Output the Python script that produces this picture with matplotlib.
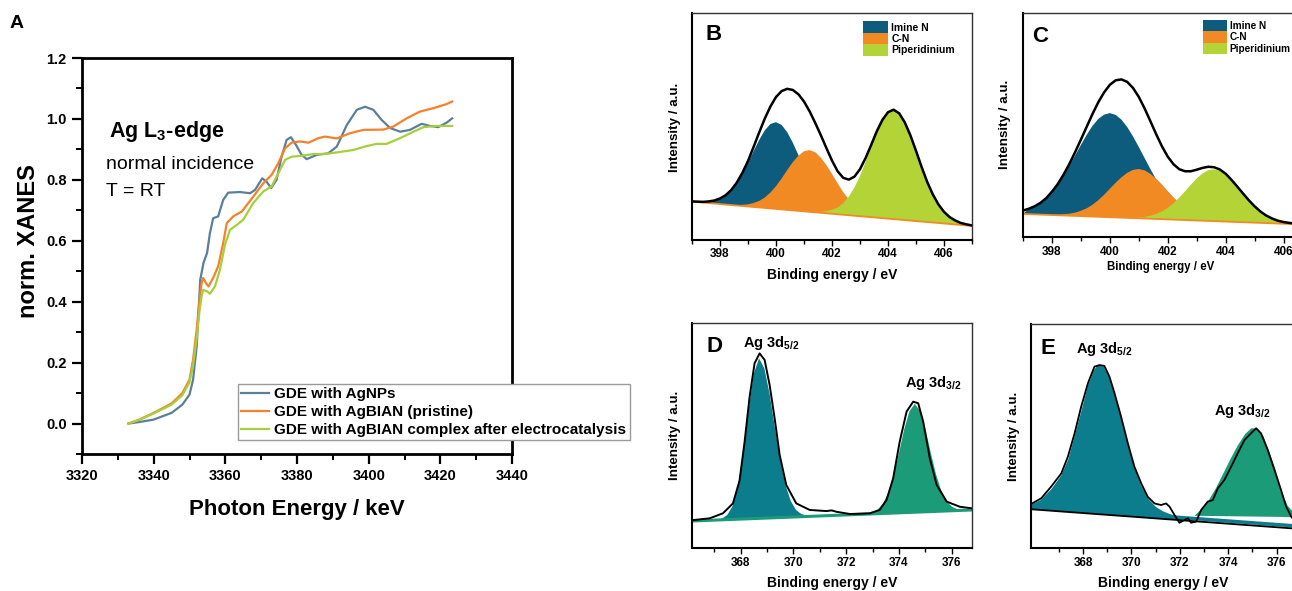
import numpy as np
import matplotlib
matplotlib.use('Agg')
import matplotlib.pyplot as plt
from matplotlib.ticker import MultipleLocator, FixedLocator

plt.rcParams['font.family'] = ['Liberation Sans', 'DejaVu Sans']
plt.rcParams['mathtext.fontset'] = 'custom'
plt.rcParams['mathtext.rm'] = 'Liberation Sans'
plt.rcParams['mathtext.bf'] = 'Liberation Sans:bold'
plt.rcParams['mathtext.it'] = 'Liberation Sans:italic'

W, H = 1292, 591


def box(l, t, r, b):
    # pixel box -> figure fraction rect
    return [l / W, 1 - b / H, (r - l) / W, (b - t) / H]


def fpos(x, y):
    return x / W, 1 - y / H


# ---------------- panel A: Ag L3-edge XANES ----------------
a_e_np = [3333, 3336, 3340, 3345, 3348, 3350, 3351, 3352, 3352.5, 3353, 3353.9, 3354.9,
          3355.7, 3356.6, 3358.0, 3359.4, 3360.8, 3364.1, 3366.9, 3368.3, 3370.3, 3371.5,
          3372.8, 3374.3, 3375.7, 3377.1, 3378.3, 3379.7, 3381.3, 3382.7, 3385.5, 3388.7,
          3391.1, 3393.9, 3396.7, 3399.0, 3401.3, 3403.6, 3406.0, 3408.8, 3411.5, 3414.8,
          3417.1, 3419.4, 3421.8, 3423.3]
a_y_np = [0.0, 0.005, 0.013, 0.035, 0.062, 0.095, 0.144, 0.253, 0.363, 0.472, 0.527, 0.56,
          0.625, 0.674, 0.68, 0.734, 0.758, 0.76, 0.756, 0.767, 0.805, 0.794,
          0.773, 0.80, 0.876, 0.931, 0.94, 0.915, 0.882, 0.868, 0.882, 0.887,
          0.909, 0.98, 1.03, 1.04, 1.03, 0.997, 0.97, 0.958, 0.964, 0.984,
          0.977, 0.973, 0.988, 1.002]

a_e_pr = [3333, 3336, 3340, 3345, 3348, 3350, 3351, 3352, 3352.8, 3353.4, 3353.8, 3354.6,
          3355.3, 3356.6, 3358.0, 3359.4, 3360.4, 3362.2, 3364.6, 3367.8, 3370.6, 3372.9,
          3374.8, 3376.7, 3378.5, 3380.8, 3383.2, 3386.0, 3387.8, 3391.1, 3394.8, 3398.5,
          3404.1, 3406.9, 3410.6, 3414.3, 3418.0, 3421.8, 3423.3]
a_y_pr = [0.0, 0.013, 0.035, 0.066, 0.10, 0.144, 0.21, 0.308, 0.407, 0.462, 0.478, 0.461,
          0.45, 0.478, 0.516, 0.592, 0.658, 0.68, 0.696, 0.745, 0.789, 0.816,
          0.855, 0.904, 0.922, 0.926, 0.922, 0.937, 0.942, 0.936, 0.953, 0.964,
          0.965, 0.975, 1.002, 1.024, 1.035, 1.049, 1.057]

a_e_ec = [3333, 3336, 3340, 3345, 3348, 3350, 3351, 3352, 3352.8, 3353.4, 3353.8, 3354.9,
          3355.7, 3357.1, 3358.5, 3359.9, 3361.3, 3363.2, 3365.0, 3367.8, 3370.6, 3372.9,
          3374.8, 3376.7, 3378.5, 3381.3, 3384.6, 3387.8, 3391.1, 3395.7, 3399.5, 3402.2,
          3405.0, 3408.8, 3412.5, 3415.3, 3419.0, 3423.3]
a_y_ec = [0.0, 0.012, 0.033, 0.062, 0.093, 0.135, 0.19, 0.28, 0.37, 0.42, 0.439, 0.434,
          0.426, 0.45, 0.505, 0.587, 0.636, 0.652, 0.669, 0.724, 0.762, 0.778,
          0.822, 0.866, 0.876, 0.879, 0.885, 0.885, 0.89, 0.898, 0.911, 0.918,
          0.918, 0.937, 0.958, 0.973, 0.977, 0.977]

a_labels = ['GDE with AgNPs', 'GDE with AgBIAN (pristine)',
            'GDE with AgBIAN complex after electrocatalysis']
a_colors = ['#5c7f99', '#f5822b', '#a6cf3d']

# ---------------- panels B, C: N 1s ----------------
n_labels = ['Imine N', 'C-N', 'Piperidinium']
n_colors = ['#0d5b7d', '#f28a24', '#b3d336']

b_bg_e = [397.0, 407.0]
b_bg = [0.169, 0.062]
b_imine = [0.169, 0.169, 0.168, 0.170, 0.174, 0.182, 0.197, 0.219, 0.251, 0.291,
           0.339, 0.391, 0.441, 0.483, 0.511, 0.519, 0.507, 0.475, 0.429, 0.374,
           0.317, 0.265, 0.221, 0.185, 0.158, 0.140, 0.127, 0.119, 0.113, 0.109, 0.105]
b_cn = [0.156, 0.155, 0.154, 0.155, 0.157, 0.163, 0.172, 0.187, 0.209, 0.237,
        0.271, 0.308, 0.343, 0.371, 0.391, 0.396, 0.387, 0.363, 0.330, 0.291,
        0.250, 0.211, 0.179, 0.153, 0.134, 0.120, 0.110, 0.104, 0.099, 0.095, 0.092]
b_pip = [0.124, 0.124, 0.124, 0.127, 0.133, 0.143, 0.162, 0.191, 0.231, 0.282,
         0.344, 0.410, 0.474, 0.526, 0.562, 0.573, 0.558, 0.518, 0.461, 0.393,
         0.322, 0.256, 0.201, 0.157, 0.124, 0.101, 0.086, 0.075, 0.069, 0.062]
b_env = [0.170, 0.169, 0.168, 0.170, 0.174, 0.183, 0.197, 0.220, 0.253, 0.296,
         0.348, 0.410, 0.474, 0.535, 0.588, 0.630, 0.656, 0.666, 0.661, 0.642,
         0.610, 0.567, 0.516, 0.462, 0.405, 0.350, 0.303, 0.274, 0.266, 0.279,
         0.312, 0.361, 0.419, 0.479, 0.529, 0.563, 0.574, 0.558, 0.518, 0.461,
         0.393, 0.322, 0.256, 0.201, 0.157, 0.124, 0.101, 0.086, 0.075, 0.069, 0.064]
b_e_imine = np.round(np.arange(397.0, 403.01, 0.2), 1)
b_e_cn = np.round(np.arange(398.2, 404.21, 0.2), 1)
b_e_pip = np.round(np.arange(401.2, 407.01, 0.2), 1)
b_e_env = np.round(np.arange(397.0, 407.01, 0.2), 1)

c_bg_e = [397.0, 407.0]
c_bg = [0.104, 0.0555]
c_imine = [0.104, 0.127, 0.138, 0.153, 0.174, 0.201, 0.234, 0.273, 0.317, 0.364,
           0.411, 0.456, 0.496, 0.527, 0.546, 0.553, 0.545, 0.524, 0.491, 0.449,
           0.402, 0.353, 0.304, 0.258, 0.217, 0.182, 0.153, 0.130, 0.113, 0.100,
           0.090, 0.084, 0.079, 0.075, 0.073, 0.070]
c_cn = [0.100, 0.101, 0.101, 0.103, 0.105, 0.110, 0.118, 0.129, 0.145, 0.165,
        0.189, 0.216, 0.243, 0.267, 0.287, 0.300, 0.304, 0.298, 0.283, 0.261,
        0.235, 0.206, 0.178, 0.152, 0.130, 0.112, 0.099, 0.089, 0.082, 0.077,
        0.074, 0.072, 0.069]
c_pip = [0.087, 0.088, 0.089, 0.091, 0.096, 0.104, 0.115, 0.131, 0.152, 0.177,
         0.205, 0.234, 0.262, 0.284, 0.299, 0.303, 0.297, 0.280, 0.256, 0.226,
         0.195, 0.165, 0.138, 0.115, 0.097, 0.084, 0.074, 0.068, 0.064, 0.061,
         0.059, 0.057, 0.056]
c_env = [0.119, 0.127, 0.138, 0.153, 0.174, 0.203, 0.237, 0.279, 0.326, 0.379,
         0.435, 0.492, 0.549, 0.601, 0.645, 0.679, 0.699, 0.703, 0.692, 0.665,
         0.625, 0.574, 0.517, 0.459, 0.405, 0.359, 0.325, 0.303, 0.294, 0.294,
         0.301, 0.309, 0.314, 0.312, 0.302, 0.283, 0.256, 0.226, 0.195, 0.165,
         0.138, 0.115, 0.097, 0.084, 0.074, 0.068, 0.064, 0.061, 0.059, 0.057, 0.056]
c_e_imine = np.round(np.arange(397.0, 404.01, 0.2), 1)
c_e_cn = np.round(np.arange(397.8, 404.21, 0.2), 1)
c_e_pip = np.round(np.arange(400.6, 407.01, 0.2), 1)
c_e_env = np.round(np.arange(397.0, 407.01, 0.2), 1)

# ---------------- panels D, E: Ag 3d ----------------
ag_colors = ['#0b7d8c', '#1c9b79']

d_bg_e = [366.17, 376.78]
d_bg = [0.121, 0.170]
d_e_52 = np.round(np.arange(367.1, 370.71, 0.2), 1)
d_52 = [0.125, 0.132, 0.148, 0.188, 0.275, 0.421, 0.609, 0.774, 0.842, 0.798,
        0.684, 0.534, 0.391, 0.281, 0.210, 0.170, 0.152, 0.145, 0.142]
d_e_32 = np.round(np.arange(372.8, 376.61, 0.2), 1)
d_32 = [0.151, 0.159, 0.172, 0.199, 0.247, 0.323, 0.422, 0.527, 0.608, 0.640,
        0.610, 0.531, 0.427, 0.330, 0.256, 0.210, 0.185, 0.174, 0.170, 0.169]
d_e_meas = [366.2, 366.83, 367.33, 367.71, 367.96, 368.15, 368.34, 368.53, 368.72, 368.91,
            369.10, 369.29, 369.48, 369.73, 370.11, 370.62, 371.25, 371.45, 371.63, 372.14,
            372.89, 373.27, 373.53, 373.78, 374.03, 374.29, 374.54, 374.73, 374.92, 375.17,
            375.43, 375.81, 376.31, 376.78]
d_meas = [0.125, 0.133, 0.155, 0.199, 0.300, 0.470, 0.670, 0.820, 0.864, 0.835,
          0.724, 0.576, 0.414, 0.281, 0.199, 0.170, 0.165, 0.168, 0.162, 0.152,
          0.155, 0.170, 0.214, 0.310, 0.473, 0.606, 0.650, 0.643, 0.561, 0.399,
          0.281, 0.207, 0.184, 0.177]

e_bg_e = [365.86, 377.5]
e_bg = [0.174, 0.082]
e_e_52 = [365.86, 365.86, 366.25, 366.7, 367.1, 367.4, 367.65, 367.95, 368.2, 368.45,
          368.6, 368.85, 369.1, 369.3, 369.55, 369.85, 370.1, 370.4, 370.7, 371.0,
          371.3, 371.6, 371.9, 372.2]
e_52 = [0.174, 0.195, 0.215, 0.265, 0.325, 0.40, 0.50, 0.62, 0.725, 0.795,
        0.815, 0.81, 0.76, 0.69, 0.59, 0.465, 0.365, 0.28, 0.22, 0.185,
        0.165, 0.152, 0.143, 0.123]
e_e_32 = [372.6, 372.9, 373.2, 373.5, 373.8, 374.1, 374.4, 374.7, 374.95, 375.2,
          375.45, 375.7, 375.95, 376.2, 376.45, 376.7, 377.0, 377.5]
e_32 = [0.145, 0.175, 0.215, 0.27, 0.335, 0.40, 0.46, 0.51, 0.535, 0.535,
        0.50, 0.43, 0.35, 0.25, 0.19, 0.16, 0.145, 0.138]
e_e_meas = [365.86, 366.27, 366.68, 367.1, 367.37, 367.65, 367.92, 368.2, 368.47, 368.68,
            368.88, 369.09, 369.3, 369.57, 369.85, 370.12, 370.4, 370.67, 370.95, 371.22,
            371.43, 371.57, 371.78, 371.98, 372.19, 372.33, 372.46, 372.67, 372.88, 373.15,
            373.36, 373.57, 373.84, 374.12, 374.39, 374.67, 374.94, 375.15, 375.35, 375.63,
            375.91, 376.18, 376.39, 376.6, 376.9, 377.2, 377.5]
e_meas = [0.198, 0.223, 0.275, 0.334, 0.408, 0.513, 0.631, 0.736, 0.810, 0.817,
          0.813, 0.765, 0.691, 0.587, 0.468, 0.364, 0.290, 0.230, 0.200, 0.193,
          0.200, 0.186, 0.148, 0.114, 0.126, 0.134, 0.114, 0.119, 0.171, 0.208,
          0.215, 0.268, 0.305, 0.364, 0.424, 0.483, 0.513, 0.535, 0.513, 0.438,
          0.349, 0.260, 0.186, 0.141, 0.100, 0.090, 0.085]

fig = plt.figure(figsize=(W / 100, H / 100), dpi=100)

# ---- A ----
ax = fig.add_axes(box(82, 58, 512, 454))
for e, y, lab, col in zip([a_e_np, a_e_pr, a_e_ec], [a_y_np, a_y_pr, a_y_ec], a_labels, a_colors):
    ax.plot(e, y, color=col, lw=1.6, label=lab)
ax.set_xlim(3320, 3440)
ax.set_ylim(-0.1, 1.2)
ax.xaxis.set_major_locator(MultipleLocator(20))
ax.xaxis.set_minor_locator(MultipleLocator(10))
ax.yaxis.set_major_locator(FixedLocator([0.0, 0.2, 0.4, 0.6, 0.8, 1.0, 1.2]))
ax.yaxis.set_minor_locator(MultipleLocator(0.1))
ax.yaxis.set_major_formatter(plt.FuncFormatter(lambda v, p: f'{v:.1f}'))
for s in ax.spines.values():
    s.set_linewidth(2)
ax.tick_params(which='major', direction='out', length=7, width=1.6, labelsize=10.5, pad=4)
ax.tick_params(which='minor', direction='out', length=4, width=1.4)
for t in ax.get_xticklabels() + ax.get_yticklabels():
    t.set_fontweight('bold')
leg = ax.legend(loc='upper left', bbox_to_anchor=fpos(238, 384), bbox_transform=fig.transFigure,
                borderaxespad=0, fancybox=False, edgecolor='#9a9a9a', framealpha=1,
                prop={'size': 11, 'weight': 'bold'}, handlelength=1.8, handletextpad=0.35,
                labelspacing=0.25, borderpad=0.22)
leg.get_frame().set_linewidth(1.0)

fig.text(*fpos(17, 24), 'A', fontsize=14, fontweight='bold', ha='center', va='center')
fig.text(*fpos(29, 241), 'norm. XANES', fontsize=17, fontweight='bold', rotation=90,
         ha='center', va='center')
fig.text(*fpos(297, 509), 'Photon Energy / keV', fontsize=16, fontweight='bold',
         ha='center', va='center')
fig.text(*fpos(109, 137), r'Ag L$_\mathbf{3}$-edge', fontsize=15.5, fontweight='bold', va='baseline')
fig.text(*fpos(106, 169), 'normal incidence', fontsize=14, va='baseline')
fig.text(*fpos(106, 196), 'T = RT', fontsize=14, va='baseline')


def xps_axes(rect, xlim, ticks, minor):
    ax = fig.add_axes(rect)
    ax.set_xlim(*xlim)
    ax.set_ylim(0, 1)
    ax.set_yticks([])
    ax.xaxis.set_major_locator(FixedLocator(ticks))
    ax.xaxis.set_minor_locator(FixedLocator(minor))
    ax.tick_params(axis='x', which='major', direction='out', length=4, width=1, labelsize=8.5, pad=2)
    ax.tick_params(axis='x', which='minor', direction='out', length=3, width=1)
    for t in ax.get_xticklabels():
        t.set_fontweight('bold')
    for k in ['top', 'right']:
        ax.spines[k].set_linewidth(1.0)
        ax.spines[k].set_color('#333333')
    for k in ['left', 'bottom']:
        ax.spines[k].set_linewidth(1.5)
    return ax


# ---- B ----
ax = xps_axes(box(692, 13, 972, 240), (397, 407), [398, 400, 402, 404, 406], [397, 399, 401, 403, 405, 407])
hb = ax.fill(b_e_imine, b_imine, color=n_colors[0], lw=0, label=n_labels[0])
hb += ax.fill(b_e_cn, b_cn, color=n_colors[1], lw=0, label=n_labels[1])
hb += ax.fill(b_e_pip, b_pip, color=n_colors[2], lw=0, label=n_labels[2])
ax.plot(b_bg_e, b_bg, color=n_colors[1], lw=1.3)
ax.plot(b_e_env, b_env, color='black', lw=1.8)
ax.legend(handles=hb, loc='upper left', bbox_to_anchor=fpos(863, 21.5), bbox_transform=fig.transFigure,
          borderaxespad=0, frameon=False, prop={'size': 7.5, 'weight': 'bold'}, handlelength=2.4,
          handleheight=1.3, handletextpad=0.3, labelspacing=0, borderpad=0)
fig.text(*fpos(714, 35), 'B', fontsize=16, fontweight='bold', ha='center', va='center')
fig.text(*fpos(675, 127), 'Intensity / a.u.', fontsize=9.6, fontweight='bold', rotation=90,
         ha='center', va='center')
fig.text(*fpos(832, 275), 'Binding energy / eV', fontsize=10, fontweight='bold', ha='center', va='center')

# ---- C ----
ax = xps_axes(box(1023, 12.7, 1312.5, 237.3), (397, 407), [398, 400, 402, 404, 406], [397, 399, 401, 403, 405, 407])
hc = ax.fill(c_e_imine, c_imine, color=n_colors[0], lw=0, label=n_labels[0])
hc += ax.fill(c_e_cn, c_cn, color=n_colors[1], lw=0, label=n_labels[1])
hc += ax.fill(c_e_pip, c_pip, color=n_colors[2], lw=0, label=n_labels[2])
ax.plot(c_bg_e, c_bg, color=n_colors[1], lw=1.3)
ax.plot(c_e_env, c_env, color='black', lw=1.8)
ax.legend(handles=hc, loc='upper left', bbox_to_anchor=fpos(1203, 19.5), bbox_transform=fig.transFigure,
          borderaxespad=0, frameon=False, prop={'size': 7.2, 'weight': 'bold'}, handlelength=2.4,
          handleheight=1.4, handletextpad=0.25, labelspacing=0, borderpad=0)
fig.text(*fpos(1040, 36), 'C', fontsize=16, fontweight='bold', ha='center', va='center')
fig.text(*fpos(1005, 124), 'Intensity / a.u.', fontsize=9.6, fontweight='bold', rotation=90,
         ha='center', va='center')
fig.text(*fpos(1161, 267), 'Binding energy / eV', fontsize=8.3, fontweight='bold', ha='center', va='center')

# ---- D ----
ax = xps_axes(box(692.3, 322.7, 972.3, 548.3), (366.17, 376.78), [368, 370, 372, 374, 376],
              [367, 369, 371, 373, 375])
ax.fill(d_e_52, d_52, color=ag_colors[0], lw=0)
ax.fill(d_e_32, d_32, color=ag_colors[1], lw=0)
ax.plot(d_bg_e, d_bg, color=ag_colors[1], lw=2.2)
ax.plot(d_e_meas, d_meas, color='black', lw=1.4)
fig.text(*fpos(714, 347), 'D', fontsize=16, fontweight='bold', ha='center', va='center')
fig.text(*fpos(743, 347), r'Ag 3d$_\mathbf{5/2}$', fontsize=10.5, fontweight='bold', va='baseline')
fig.text(*fpos(905, 387), r'Ag 3d$_\mathbf{3/2}$', fontsize=10.5, fontweight='bold', va='baseline')
fig.text(*fpos(675, 435), 'Intensity / a.u.', fontsize=9.6, fontweight='bold', rotation=90,
         ha='center', va='center')
fig.text(*fpos(832, 583), 'Binding energy / eV', fontsize=10, fontweight='bold', ha='center', va='center')

# ---- E ----
ax = xps_axes(box(1031.3, 324, 1313, 548.3), (365.86, 377.5), [368, 370, 372, 374, 376],
              [367, 369, 371, 373, 375, 377])
ax.fill(e_e_52, e_52, color=ag_colors[0], lw=0)
ax.fill(e_e_32, e_32, color=ag_colors[1], lw=0)
ax.plot(e_bg_e, [v + 0.012 for v in e_bg], color=ag_colors[0], lw=2.5)
ax.plot(e_bg_e, e_bg, color='black', lw=1.3)
ax.plot(e_e_meas, e_meas, color='black', lw=1.3)
fig.text(*fpos(1048, 349), 'E', fontsize=16, fontweight='bold', ha='center', va='center')
fig.text(*fpos(1076, 353), r'Ag 3d$_\mathbf{5/2}$', fontsize=10.5, fontweight='bold', va='baseline')
fig.text(*fpos(1214, 415), r'Ag 3d$_\mathbf{3/2}$', fontsize=10.5, fontweight='bold', va='baseline')
fig.text(*fpos(1014, 436), 'Intensity / a.u.', fontsize=9.6, fontweight='bold', rotation=90,
         ha='center', va='center')
fig.text(*fpos(1163, 583), 'Binding energy / eV', fontsize=10, fontweight='bold', ha='center', va='center')

fig.savefig('out.png', dpi=100)
